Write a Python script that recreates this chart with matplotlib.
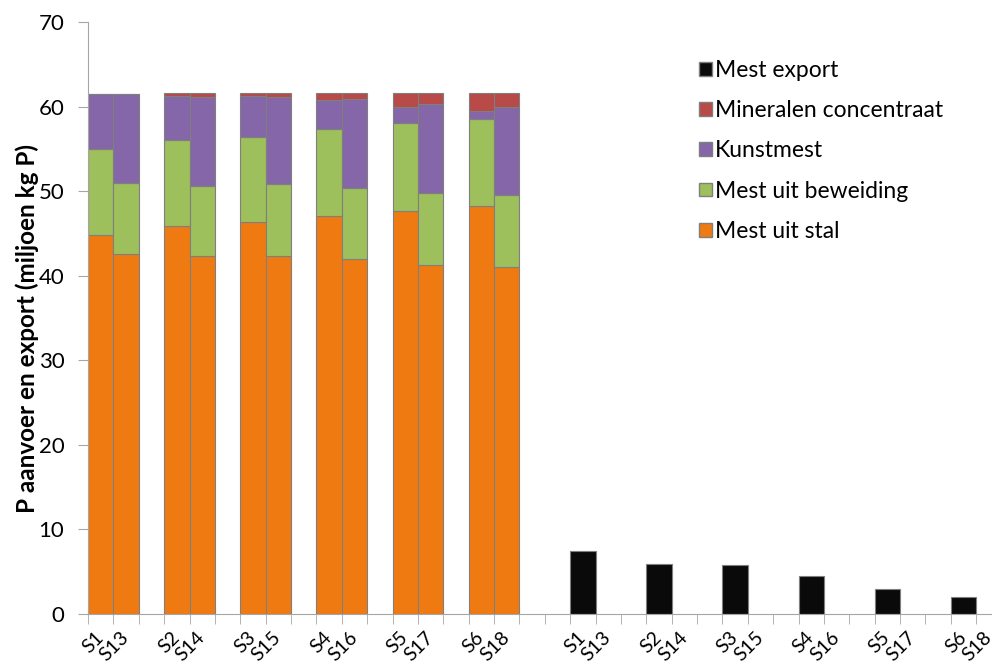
import numpy as np
import matplotlib
matplotlib.use("Agg")
import matplotlib.pyplot as plt
from matplotlib.patches import Patch

plt.rcParams['font.family'] = ['Lato', 'DejaVu Sans']

# -- Categorieen (links: aanvoer, rechts: export) --
pairs = [('S1', 'S13'), ('S2', 'S14'), ('S3', 'S15'),
         ('S4', 'S16'), ('S5', 'S17'), ('S6', 'S18')]

# -- Aanvoer (miljoen kg P), volgorde S1, S13, S2, S14, ... S6, S18 --
mest_uit_stal = [44.8, 42.6, 45.9, 42.3, 46.3, 42.3, 47.1, 42.0, 47.7, 41.3, 48.3, 41.0]
mest_uit_beweiding = [10.2, 8.4, 10.2, 8.3, 10.1, 8.5, 10.3, 8.4, 10.3, 8.5, 10.2, 8.5]
kunstmest = [6.5, 10.5, 5.1, 10.5, 4.8, 10.3, 3.4, 10.5, 2.0, 10.5, 1.0, 10.5]
mineralen_concentraat = [0.0, 0.0, 0.4, 0.5, 0.4, 0.5, 0.8, 0.7, 1.6, 1.3, 2.1, 1.6]

# -- Export (miljoen kg P), per paar --
mest_export = [7.4, 5.9, 5.8, 4.5, 3.0, 2.0]

colors = {
    'stal': '#F07A12',
    'beweiding': '#9DBF5C',
    'kunst': '#8566A8',
    'mineraal': '#B84A47',
    'export': '#0A0A0A',
}

# -- Posities: paar, paar, leeg ... --
left_pos = []
for k in range(len(pairs)):
    left_pos += [3 * k, 3 * k + 1]
left_pos = np.array(left_pos)
right_start = 3 * len(pairs) + 1
export_pos = np.array([right_start + 3 * k for k in range(len(pairs))])
n_slots = right_start + 3 * len(pairs) - 1

fig = plt.figure(figsize=(9.92, 6.66), dpi=100)
ax = fig.add_axes([0.0887, 0.078, 0.921, 0.889])

edge = '#7F7F7F'
bottom = np.zeros(len(left_pos))
for vals, key in [(mest_uit_stal, 'stal'), (mest_uit_beweiding, 'beweiding'),
                  (kunstmest, 'kunst'), (mineralen_concentraat, 'mineraal')]:
    vals = np.array(vals)
    ax.bar(left_pos, vals, width=1.0, bottom=bottom, color=colors[key],
           edgecolor=edge, linewidth=0.8)
    bottom += vals

ax.bar(export_pos, mest_export, width=1.0, color=colors['export'],
       edgecolor=edge, linewidth=0.8)

# -- Assen --
ax.set_xlim(-0.5, n_slots - 0.5)
ax.set_ylim(0, 70)
ax.set_yticks(np.arange(0, 71, 10))
ax.tick_params(axis='y', labelsize=16, length=7, color='#A6A6A6', pad=10)

labels = [s for p in pairs for s in p]
tick_pos = list(left_pos) + [p + d for p in export_pos for d in (0, 1)]
ax.set_xticks(tick_pos)
ax.set_xticklabels(labels * 2, rotation=45, ha='right', va='center',
                   rotation_mode='anchor', fontsize=14)
ax.tick_params(axis='x', length=0, pad=15)
ax.set_xticks(np.arange(-0.5, n_slots, 1), minor=True)
ax.tick_params(axis='x', which='minor', length=7, color='#A6A6A6')

for s in ['top', 'right']:
    ax.spines[s].set_visible(False)
for s in ['left', 'bottom']:
    ax.spines[s].set_color('#A6A6A6')

ax.set_ylabel('P aanvoer en export (miljoen kg P)', fontsize=17.5,
              fontweight='bold')
ax.yaxis.set_label_coords(-0.054, 0.483)

# -- Legende --
handles = [Patch(facecolor=colors['export'], edgecolor=edge),
           Patch(facecolor=colors['mineraal'], edgecolor=edge),
           Patch(facecolor=colors['kunst'], edgecolor=edge),
           Patch(facecolor=colors['beweiding'], edgecolor=edge),
           Patch(facecolor=colors['stal'], edgecolor=edge)]
names = ['Mest export', 'Mineralen concentraat', 'Kunstmest',
         'Mest uit beweiding', 'Mest uit stal']
fig.legend(handles, names, loc='upper left', bbox_to_anchor=(0.684, 0.941),
           frameon=False, fontsize=16.5, handlelength=0.55, handleheight=0.55,
           handletextpad=0.15, labelspacing=0.84)

fig.savefig('out.png', dpi=100)
